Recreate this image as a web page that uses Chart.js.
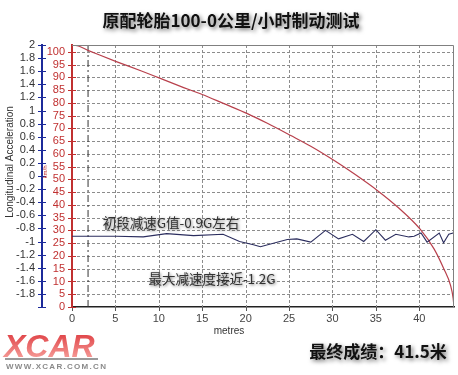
<!DOCTYPE html>
<html>
<head>
<meta charset="utf-8">
<script src="https://cdn.jsdelivr.net/npm/chart.js@4.4.1/dist/chart.umd.min.js"></script>
<style>
  html, body { margin: 0; padding: 0; background: #fff; }
  #brakeChart { display: block; }
</style>
</head>
<body>
<canvas id="brakeChart" width="458" height="375"></canvas>
<script>
// 速度曲线 (km/h) 对应距离 (m)
const speedDist = [0, 0.4, 1.9, 5.1, 8.0, 10.1, 12.5, 15.0, 17.5, 20.2, 22.5, 25.2, 27.5, 30.2, 32.5, 35.2, 37.5, 40.1, 41.7, 42.8, 43.6, 43.9, 44.0];
const speedKmh  = [102.5, 102.5, 100.5, 96.2, 92.5, 89.7, 86.5, 83.3, 79.7, 75.8, 72.0, 67.2, 63.0, 57.4, 52.2, 45.6, 39.2, 30.5, 22.8, 15.2, 8.5, 3.5, 0];

// 纵向加速度 (G)
const accelDist = [0, 5.1, 8.2, 10.9, 14.0, 17.4, 19.3, 20.9, 21.7, 24.8, 25.9, 27.5, 29.2, 30.7, 32.3, 33.6, 35.0, 36.1, 37.3, 38.8, 39.4, 40.2, 40.9, 42.3, 42.8, 43.4, 43.9];
const accelG    = [-0.92, -0.92, -0.93, -0.88, -0.91, -0.89, -1.0, -1.05, -1.08, -0.97, -0.96, -1.01, -0.83, -0.96, -0.89, -1.0, -0.82, -0.98, -0.89, -0.93, -0.92, -0.87, -1.01, -0.87, -1.02, -0.89, -0.87];

// 起始标记线
const markerDist = [1.85, 1.85];
const markerG    = [-2, 2];

const titleText  = '原配轮胎100-0公里/小时制动测试';
const noteFirst  = '初段减速G值-0.9G左右';
const noteMax    = '最大减速度接近-1.2G';
const resultText = '最终成绩：41.5米';

const cjk = '"Noto Sans CJK SC", "Noto Sans", sans-serif';
const latin = '"Liberation Sans", Arial, sans-serif';

function toPoints(xs, ys) {
    return xs.map((x, i) => ({ x: x, y: ys[i] }));
}

function shadowText(ctx, txt, x, y, font, color, blur, off) {
    ctx.save();
    ctx.font = font;
    ctx.textAlign = 'center';
    ctx.textBaseline = 'middle';
    ctx.shadowColor = 'rgba(0,0,0,0.55)';
    ctx.shadowBlur = blur;
    ctx.shadowOffsetX = off;
    ctx.shadowOffsetY = off;
    ctx.fillStyle = color;
    ctx.fillText(txt, x, y);
    ctx.restore();
}

function seg(ctx, x1, y1, x2, y2) {
    ctx.beginPath();
    ctx.moveTo(x1, y1);
    ctx.lineTo(x2, y2);
    ctx.stroke();
}

// dashed grid + tick marks from the scales' own ticks
const dashedGrid = {
    id: 'dashedGrid',
    beforeDatasetsDraw(chart) {
        const ctx = chart.ctx;
        const a = chart.chartArea;
        const xs = chart.scales.x;
        const ys = chart.scales.ySpeed;
        ctx.save();
        ctx.strokeStyle = '#8c8c8c';
        ctx.lineWidth = 1;
        ctx.setLineDash([3, 2]);
        xs.ticks.forEach(t => {
            if (t.value === 0) return;
            const px = Math.round(xs.getPixelForValue(t.value)) + 0.5;
            seg(ctx, px, a.top, px, a.bottom);
        });
        ys.ticks.forEach(t => {
            if (t.value === 0) return;
            const py = Math.round(ys.getPixelForValue(t.value)) + 0.5;
            seg(ctx, a.left, py, a.right, py);
        });
        ctx.restore();
    },
    afterDraw(chart) {
        const ctx = chart.ctx;
        const a = chart.chartArea;
        const xs = chart.scales.x;
        const ys = chart.scales.ySpeed;
        const yg = chart.scales.yG;
        ctx.save();
        ctx.lineWidth = 1;
        ctx.strokeStyle = '#555';
        xs.ticks.forEach(t => {
            const px = Math.round(xs.getPixelForValue(t.value)) + 0.5;
            seg(ctx, px, a.bottom, px, a.bottom + 4);
        });
        ctx.strokeStyle = '#c03030';
        ys.ticks.forEach(t => {
            const py = Math.round(ys.getPixelForValue(t.value)) + 0.5;
            seg(ctx, ys.right - 4, py, ys.right + 4, py);
        });
        ctx.strokeStyle = '#1c2a9a';
        yg.ticks.forEach(t => {
            const py = Math.round(yg.getPixelForValue(t.value)) + 0.5;
            seg(ctx, yg.right - 4, py, yg.right + 4, py);
        });
        ctx.restore();
    }
};

const decorations = {
    id: 'decorations',
    afterDraw(chart) {
        const ctx = chart.ctx;
        const a = chart.chartArea;

        // frame on top / right
        ctx.save();
        ctx.strokeStyle = '#808080';
        ctx.lineWidth = 1;
        ctx.beginPath();
        ctx.moveTo(a.left, a.top + 0.5);
        ctx.lineTo(a.right - 0.5, a.top + 0.5);
        ctx.lineTo(a.right - 0.5, a.bottom);
        ctx.stroke();
        ctx.restore();

        // title & result
        shadowText(ctx, titleText, 231, 21, 'bold 17px ' + cjk, '#111', 4, 2);
        shadowText(ctx, resultText, 378, 352, 'bold 17px ' + cjk, '#111', 4, 2);

        // notes
        shadowText(ctx, noteFirst, 171, 223, '13.5px ' + cjk, '#333', 3, 1);
        shadowText(ctx, noteMax, 212, 279, '13.5px ' + cjk, '#333', 3, 1);

        // axis titles
        ctx.save();
        ctx.fillStyle = '#333';
        ctx.font = '10px ' + latin;
        ctx.textAlign = 'center';
        ctx.textBaseline = 'middle';
        ctx.fillText('metres', 229, 331);
        ctx.translate(10, 162);
        ctx.rotate(-Math.PI / 2);
        ctx.fillText('Longitudinal Acceleration', 0, 0);
        ctx.restore();

        ctx.save();
        ctx.fillStyle = '#c03030';
        ctx.font = '6px ' + latin;
        ctx.textAlign = 'center';
        ctx.textBaseline = 'middle';
        ctx.translate(45, 172);
        ctx.rotate(-Math.PI / 2);
        ctx.fillText('km/h', 0, 0);
        ctx.restore();

        // XCAR logo
        ctx.save();
        const grad = ctx.createLinearGradient(0, 334, 0, 358);
        grad.addColorStop(0, '#e04448');
        grad.addColorStop(1, '#f59a96');
        ctx.fillStyle = grad;
        ctx.font = 'italic bold 32px ' + latin;
        ctx.textAlign = 'left';
        ctx.textBaseline = 'alphabetic';
        ctx.fillText('XCAR', 4, 357);
        ctx.fillStyle = '#9a9a9a';
        ctx.fillRect(5, 358, 93, 2);
        ctx.font = 'bold 8px ' + latin;
        ctx.fillStyle = '#8a8a8a';
        if ('letterSpacing' in ctx) ctx.letterSpacing = '1.3px';
        ctx.fillText('WWW.XCAR.COM.CN', 6, 369);
        ctx.restore();
    }
};

const ctx = document.getElementById('brakeChart').getContext('2d');
window.brakeChart = new Chart(ctx, {
    type: 'line',
    data: {
        datasets: [
            {
                data: toPoints(accelDist, accelG),
                yAxisID: 'yG',
                borderColor: '#2b2d5e',
                borderWidth: 1.1,
                pointRadius: 0,
                tension: 0
            },
            {
                data: toPoints(speedDist, speedKmh),
                yAxisID: 'ySpeed',
                borderColor: '#b8404c',
                borderWidth: 1.2,
                pointRadius: 0,
                cubicInterpolationMode: 'monotone'
            },
            {
                data: toPoints(markerDist, markerG),
                yAxisID: 'yG',
                borderColor: '#333',
                borderWidth: 1,
                borderDash: [7, 3, 2, 3],
                pointRadius: 0
            }
        ]
    },
    options: {
        responsive: false,
        animation: false,
        layout: { padding: { top: 45, right: 4, bottom: 48, left: 0 } },
        plugins: {
            legend: { display: false },
            tooltip: { enabled: false }
        },
        scales: {
            x: {
                type: 'linear',
                min: 0,
                max: 44,
                afterFit: s => { s.height = 20; },
                ticks: {
                    stepSize: 5,
                    includeBounds: false,
                    color: '#444',
                    padding: 1,
                    maxRotation: 0,
                    font: { family: latin, size: 11 }
                },
                grid: { display: false, tickLength: 4 },
                border: { color: '#222', width: 1.5 }
            },
            yG: {
                position: 'left',
                weight: 1,
                min: -2,
                max: 2,
                afterFit: s => { s.width = 42; },
                ticks: {
                    stepSize: 0.2,
                    includeBounds: false,
                    autoSkip: false,
                    maxTicksLimit: 30,
                    color: '#333',
                    padding: 3,
                    font: { family: latin, size: 11 },
                    callback: v => {
                        const r = Math.round(v * 10) / 10;
                        return r === -2 ? '' : String(r);
                    }
                },
                grid: { display: false, tickLength: 4 },
                border: { color: '#1c2a9a', width: 2 }
            },
            ySpeed: {
                position: 'left',
                weight: 0,
                min: 0,
                max: 102.7,
                afterFit: s => { s.width = 30; },
                ticks: {
                    stepSize: 5,
                    includeBounds: false,
                    autoSkip: false,
                    maxTicksLimit: 30,
                    color: '#c03030',
                    padding: 3,
                    font: { family: latin, size: 11 }
                },
                grid: { display: false, tickLength: 4 },
                border: { color: '#c03030', width: 2 }
            }
        }
    },
    plugins: [dashedGrid, decorations]
});
</script>
</body>
</html>
